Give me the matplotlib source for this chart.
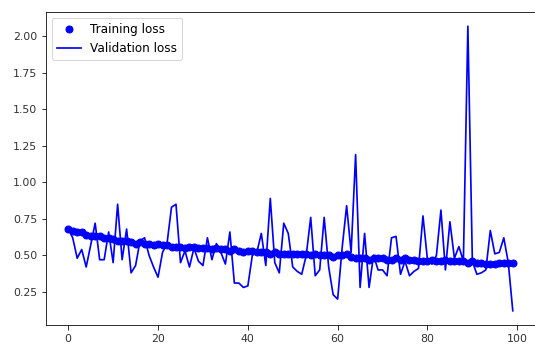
import matplotlib
matplotlib.use("Agg")
import matplotlib.pyplot as plt

epochs = list(range(100))

training_loss = [
    0.68, 0.67, 0.66, 0.66, 0.64, 0.63, 0.63, 0.63, 0.62, 0.62,
    0.61, 0.60, 0.60, 0.60, 0.59, 0.58, 0.59, 0.58, 0.58, 0.57,
    0.58, 0.57, 0.57, 0.56, 0.56, 0.56, 0.55, 0.56, 0.56, 0.55,
    0.55, 0.55, 0.54, 0.55, 0.54, 0.54, 0.53, 0.54, 0.53, 0.52,
    0.53, 0.53, 0.52, 0.52, 0.52, 0.51, 0.52, 0.51, 0.51, 0.51,
    0.51, 0.51, 0.51, 0.51, 0.50, 0.51, 0.50, 0.50, 0.50, 0.49,
    0.50, 0.50, 0.51, 0.49, 0.48, 0.48, 0.48, 0.47, 0.48, 0.48,
    0.48, 0.47, 0.47, 0.48, 0.47, 0.48, 0.47, 0.47, 0.46, 0.46,
    0.46, 0.47, 0.46, 0.46, 0.47, 0.46, 0.46, 0.46, 0.46, 0.45,
    0.46, 0.45, 0.45, 0.44, 0.44, 0.44, 0.45, 0.45, 0.45, 0.45,
]

validation_loss = [
    0.68, 0.62, 0.48, 0.54, 0.42, 0.57, 0.72, 0.47, 0.47, 0.66,
    0.45, 0.85, 0.47, 0.68, 0.38, 0.43, 0.60, 0.62, 0.50, 0.42,
    0.35, 0.52, 0.58, 0.83, 0.85, 0.45, 0.53, 0.42, 0.55, 0.46,
    0.43, 0.62, 0.47, 0.58, 0.52, 0.44, 0.66, 0.31, 0.31, 0.28,
    0.29, 0.50, 0.52, 0.65, 0.43, 0.89, 0.45, 0.38, 0.72, 0.65,
    0.42, 0.39, 0.37, 0.50, 0.76, 0.36, 0.40, 0.76, 0.42, 0.23,
    0.20, 0.55, 0.84, 0.52, 1.19, 0.28, 0.65, 0.28, 0.50, 0.40,
    0.40, 0.36, 0.62, 0.63, 0.37, 0.46, 0.36, 0.39, 0.41, 0.77,
    0.47, 0.44, 0.50, 0.81, 0.40, 0.73, 0.48, 0.56, 0.46, 2.07,
    0.46, 0.37, 0.38, 0.40, 0.67, 0.51, 0.52, 0.62, 0.45, 0.12,
]

fig = plt.figure(figsize=(535 / 72, 353 / 72), dpi=72)
ax = fig.add_axes([46 / 535, 28 / 353, 489 / 535, 313 / 353])

ax.plot(epochs, training_loss, "bo", markersize=7, label="Training loss")
ax.plot(epochs, validation_loss, "b", linewidth=1.7, label="Validation loss")
ax.spines["right"].set_visible(False)
ax.tick_params(labelsize=11, length=4.5, pad=4.5, labelcolor="#333333")
ax.legend(loc="upper left", fontsize=12)

fig.savefig("out.png", dpi=72)
